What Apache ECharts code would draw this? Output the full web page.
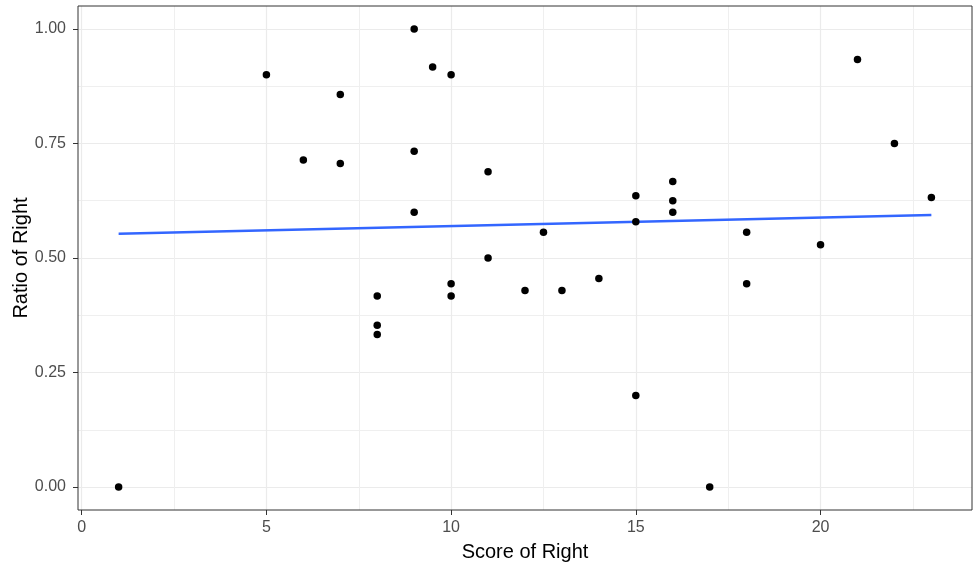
<!DOCTYPE html>
<html>
<head>
<meta charset="utf-8">
<script src="https://cdn.jsdelivr.net/npm/echarts@6/dist/echarts.min.js"></script>
<style>
  html, body { margin: 0; padding: 0; background: #fff; }
  #chart { width: 977px; height: 570px; }
</style>
</head>
<body>
<div id="chart"></div>
<script>
    // score of right vs ratio of right, one point per row
    var scoreRight = [1, 5, 6, 7, 7, 8, 8, 8, 9, 9, 9, 9.5, 10, 10, 10, 11, 11, 12, 12.5, 13,
        14, 15, 15, 15, 16, 16, 16, 17, 18, 18, 20, 21, 22, 23];
    var ratioRight = [0, 0.9, 0.714, 0.857, 0.706, 0.417, 0.353, 0.333, 1.0, 0.733, 0.6, 0.917, 0.9, 0.444, 0.417, 0.688, 0.5, 0.429, 0.556, 0.429,
        0.455, 0.636, 0.579, 0.2, 0.667, 0.625, 0.6, 0, 0.556, 0.444, 0.529, 0.933, 0.75, 0.632];

    // linear fit (geom_smooth method = lm, no se)
    var fitX = [1, 23];
    var fitY = [0.553, 0.594];

    var xMajor = [0, 5, 10, 15, 20];
    var xMinor = [2.5, 7.5, 12.5, 17.5, 22.5];
    var yMajor = [0, 0.25, 0.5, 0.75, 1.0];
    var yMinor = [0.125, 0.375, 0.625, 0.875];

    var font = "'Liberation Sans', Arial, sans-serif";
    var xRange = [-0.1, 24.1];
    var yRange = [-0.05, 1.05];

    var points = scoreRight.map(function (x, i) {
        return [x, ratioRight[i]];
    });
    var fitLine = fitX.map(function (x, i) {
        return [x, fitY[i]];
    });

    function minorAxis(min, max, values, pos) {
        return {
            type: 'value',
            min: min,
            max: max,
            position: pos,
            axisLine: {show: false, onZero: false},
            axisLabel: {show: false},
            axisTick: {show: false, customValues: values},
            splitLine: {show: true, lineStyle: {color: '#EFEFEF', width: 1}}
        };
    }

    var chart = echarts.init(document.getElementById('chart'));
    var option = {
        animation: false,
        backgroundColor: '#ffffff',
        grid: {
            left: 78,
            right: 5,
            top: 6,
            bottom: 60,
            outerBoundsMode: 'none',
            show: true,
            borderColor: '#333333',
            borderWidth: 1,
            backgroundColor: 'transparent',
            z: 3
        },
        xAxis: [{
            type: 'value',
            min: xRange[0],
            max: xRange[1],
            position: 'bottom',
            name: 'Score of Right',
            nameLocation: 'middle',
            nameGap: 32,
            nameMoveOverlap: false,
            nameTextStyle: {fontFamily: font, fontSize: 20, color: '#000000'},
            axisLine: {show: false, onZero: false},
            axisTick: {show: true, inside: false, length: 5, customValues: xMajor, lineStyle: {color: '#333333', width: 1}},
            axisLabel: {customValues: xMajor, margin: 10, fontFamily: font, fontSize: 16, color: '#4D4D4D'},
            splitLine: {show: true, lineStyle: {color: '#EBEBEB', width: 1.2}}
        }, minorAxis(xRange[0], xRange[1], xMinor, 'top')],
        yAxis: [{
            type: 'value',
            min: yRange[0],
            max: yRange[1],
            position: 'left',
            name: 'Ratio of Right',
            nameLocation: 'middle',
            nameGap: 47,
            nameMoveOverlap: false,
            nameTextStyle: {fontFamily: font, fontSize: 20, color: '#000000'},
            axisLine: {show: false, onZero: false},
            axisTick: {show: true, inside: false, length: 5, customValues: yMajor, lineStyle: {color: '#333333', width: 1}},
            axisLabel: {
                customValues: yMajor, margin: 12, fontFamily: font, fontSize: 16, color: '#4D4D4D',
                formatter: function (v) {
                    return v.toFixed(2);
                }
            },
            splitLine: {show: true, lineStyle: {color: '#EBEBEB', width: 1.2}}
        }, minorAxis(yRange[0], yRange[1], yMinor, 'right')],
        series: [{
            type: 'scatter',
            xAxisIndex: 0,
            yAxisIndex: 0,
            symbol: 'circle',
            symbolSize: 7.5,
            itemStyle: {color: '#000000', opacity: 1},
            data: points,
            z: 4
        }, {
            type: 'line',
            xAxisIndex: 0,
            yAxisIndex: 0,
            symbol: 'none',
            lineStyle: {color: '#3366FF', width: 2.5},
            data: fitLine,
            z: 3
        }]
    };
    chart.setOption(option);
</script>
</body>
</html>
